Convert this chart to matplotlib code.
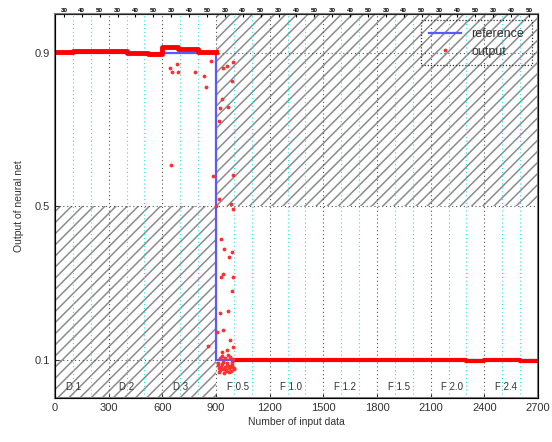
import matplotlib.pyplot as plt
from matplotlib.lines import Line2D

plt.rcParams['font.family'] = ['Liberation Sans', 'DejaVu Sans']
plt.rcParams['hatch.color'] = '#8c8c8c'
plt.rcParams['hatch.linewidth'] = 1.1

# reference signal
ref_x = [0, 900, 900, 2700]
ref_y = [0.9, 0.9, 0.1, 0.1]

# dense band of the network output (segment edges and levels)
band_hi_x = [0, 100, 310, 400, 520, 600, 690, 800, 900]
band_hi_y = [0.901, 0.905, 0.903, 0.899, 0.896, 0.914, 0.909, 0.901, 0.901]
band_lo_x = [1000, 2300, 2400, 2600, 2700]
band_lo_y = [0.100, 0.0955, 0.099, 0.0955, 0.0955]

# scattered output points around the transition
pts_x = [643, 680, 652, 689, 783, 833, 844, 872, 648, 885,
         937, 963, 997, 987, 932, 922, 969, 917, 997, 918,
         900, 982, 993, 926, 945, 987, 975, 937, 926, 997,
         987, 922, 969, 937, 907, 978, 993, 857, 931, 959,
         912, 918, 925, 933, 940, 948, 955, 962, 970, 978,
         985, 992, 1000, 915, 928, 944, 958, 973, 989, 1003,
         920, 936, 951, 966, 981, 996, 910, 942, 964, 990]
pts_y = [0.860, 0.870, 0.849, 0.849, 0.849, 0.840, 0.811, 0.879, 0.608, 0.579,
         0.860, 0.864, 0.875, 0.825, 0.779, 0.756, 0.759, 0.721, 0.582, 0.519,
         0.501, 0.506, 0.493, 0.415, 0.387, 0.380, 0.368, 0.323, 0.316, 0.314,
         0.280, 0.221, 0.226, 0.176, 0.171, 0.151, 0.132, 0.136, 0.119, 0.124,
         0.085, 0.078, 0.072, 0.088, 0.075, 0.082, 0.070, 0.086, 0.077, 0.083,
         0.071, 0.080, 0.076, 0.068, 0.081, 0.066, 0.074, 0.069, 0.087, 0.079,
         0.105, 0.110, 0.103, 0.112, 0.107, 0.102, 0.092, 0.094, 0.091, 0.093]

seg_starts = [0, 300, 600, 900, 1200, 1500, 1800, 2100, 2400]
seg_names = ['D 1', 'D 2', 'D 3', 'F 0.5', 'F 1.0', 'F 1.2', 'F 1.5', 'F 2.0', 'F 2.4']
top_ticks = [50 + 100 * i for i in range(27)]
top_labels = ['30', '40', '50'] * 9

fig = plt.figure(figsize=(5.52, 4.42), dpi=100)
ax = fig.add_axes([0.0996, 0.0995, 0.875, 0.8685])

# hatched "wrong" regions
ax.fill_between([0, 900], 0, 0.5, facecolor='none', hatch='///', edgecolor='#8c8c8c', linewidth=0)
ax.fill_between([900, 2700], 0.5, 1.0, facecolor='none', hatch='///', edgecolor='#8c8c8c', linewidth=0)

# grid
for s in seg_starts[1:]:
    ax.axvline(s, color='#555555', ls=(0, (1, 2.5)), lw=0.8, zorder=1)
    ax.axvline(s - 200, color='#33e0e6', ls=(0, (1, 2.5)), lw=0.8, zorder=1)
    ax.axvline(s - 100, color='#33e0e6', ls=(0, (1, 2.5)), lw=0.8, zorder=1)
ax.axvline(2500, color='#33e0e6', ls=(0, (1, 2.5)), lw=0.8, zorder=1)
ax.axvline(2600, color='#33e0e6', ls=(0, (1, 2.5)), lw=0.8, zorder=1)
for yv in [0.1, 0.5, 0.9]:
    ax.axhline(yv, color='#555555', ls=(0, (1, 2.5)), lw=0.8, zorder=1)

ax.plot(ref_x, ref_y, color='#5a5aff', lw=1.6, zorder=3)
ax.step(band_hi_x, band_hi_y, where='post', color='red', lw=3.5, zorder=4)
ax.step(band_lo_x, band_lo_y, where='post', color='red', lw=3.0, zorder=4)
ax.plot(pts_x, pts_y, '.', color='#ff3030', ms=3.5, zorder=4)

for s, name in zip(seg_starts, seg_names):
    ax.text(s + 60, 0.03, name, fontsize=7, color='#333333', va='center', ha='left', zorder=5)

ax.set_xlim(0, 2700)
ax.set_ylim(0, 1.0)
ax.set_xticks(seg_starts + [2700])
ax.set_yticks([0.1, 0.5, 0.9])
ax.set_yticklabels(['0.1', '0.5', '0.9'])
ax.tick_params(direction='in', length=3, labelsize=8, colors='#333333')
ax.set_xlabel('Number of input data', fontsize=7.5, color='#333333', labelpad=3)
ax.set_ylabel('Output of neural net', fontsize=7.5, color='#333333', labelpad=8)
for sp in ax.spines.values():
    sp.set_color('#808080')
    sp.set_linewidth(1.5)

top = ax.twiny()
top.set_xlim(0, 2700)
top.set_xticks(top_ticks)
top.set_xticklabels(top_labels, fontsize=4.5, fontweight='bold')
top.tick_params(direction='in', length=2, pad=1)
top.spines['top'].set_color('#222222')

handles = [Line2D([], [], color='#5a5aff', lw=1.6),
           Line2D([], [], ls='none', marker='.', color='#ff3030', ms=3.5)]
leg = ax.legend(handles, ['reference', 'output'], loc='upper right', fontsize=9,
                framealpha=1, facecolor='none', fancybox=False, edgecolor='#333333',
                borderaxespad=0.5, borderpad=0.6, labelspacing=0.45,
                handlelength=2.6, handletextpad=0.8)
leg.get_frame().set_linestyle((0, (1, 1.5)))
leg.get_frame().set_linewidth(0.9)
for t in leg.get_texts():
    t.set_color('#333333')

fig.savefig('out.png', dpi=100)
